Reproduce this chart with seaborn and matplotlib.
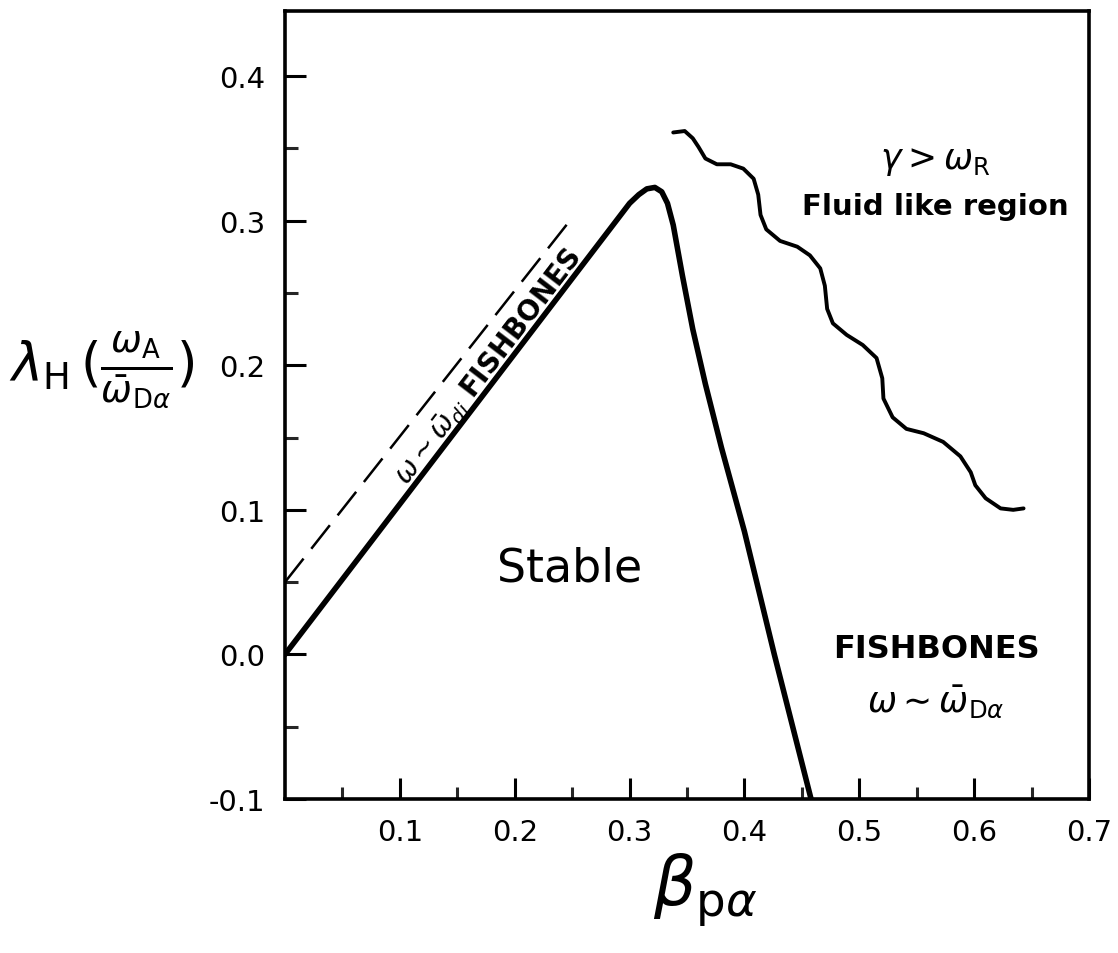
import numpy as np
import pandas as pd
import matplotlib
matplotlib.use("Agg")
import matplotlib.pyplot as plt
import seaborn as sns

# Marginal-stability boundary (solid)
boundary_beta = [0.0, 0.10, 0.20, 0.300, 0.308, 0.315, 0.322, 0.328, 0.333, 0.338,
                 0.346, 0.355, 0.366, 0.380, 0.400, 0.426, 0.458]
boundary_lam = [0.0, 0.104, 0.208, 0.312, 0.318, 0.322, 0.323, 0.320, 0.312, 0.297,
                0.262, 0.225, 0.187, 0.143, 0.085, 0.000, -0.100]

# Diamagnetic-branch guide (dashed)
dia_beta = [0.0, 0.248]
dia_lam = [0.05, 0.30]

# Fluid-like region boundary (wavy)
fluid_beta = [0.338, 0.348, 0.355, 0.360, 0.366, 0.376, 0.388, 0.399, 0.408, 0.412,
              0.414, 0.419, 0.431, 0.446, 0.457, 0.466, 0.470, 0.472, 0.477, 0.489,
              0.503, 0.515, 0.520, 0.521, 0.529, 0.541, 0.556, 0.573, 0.588, 0.597,
              0.601, 0.610, 0.623, 0.634, 0.643]
fluid_lam = [0.361, 0.362, 0.357, 0.351, 0.343, 0.339, 0.339, 0.336, 0.329, 0.318,
             0.304, 0.294, 0.286, 0.282, 0.276, 0.267, 0.255, 0.239, 0.229, 0.221,
             0.214, 0.205, 0.191, 0.177, 0.164, 0.156, 0.153, 0.147, 0.137, 0.126,
             0.117, 0.108, 0.101, 0.100, 0.101]

x_major = [0.1, 0.2, 0.3, 0.4, 0.5, 0.6, 0.7]
x_minor = [0.05, 0.15, 0.25, 0.35, 0.45, 0.55, 0.65]
y_major = [-0.1, 0.0, 0.1, 0.2, 0.3, 0.4]
y_minor = [-0.05, 0.05, 0.15, 0.25, 0.35]

sns.set_theme(style="white")
plt.rcParams["font.family"] = ["DejaVu Sans"]
plt.rcParams["mathtext.fontset"] = "dejavusans"
plt.rcParams["text.color"] = "black"
plt.rcParams["axes.labelcolor"] = "black"

fig = plt.figure(figsize=(11.18, 9.54), dpi=100)
ax = fig.add_axes([0.2549, 0.1614, 0.7192, 0.8260])

boundary = pd.DataFrame({"beta": boundary_beta, "lam": boundary_lam})
dia = pd.DataFrame({"beta": dia_beta, "lam": dia_lam})
fluid = pd.DataFrame({"beta": fluid_beta, "lam": fluid_lam})

sns.lineplot(data=boundary, x="beta", y="lam", ax=ax, sort=False, estimator=None,
             color="black", lw=4.0, solid_capstyle="round", solid_joinstyle="round")
sns.lineplot(data=dia, x="beta", y="lam", ax=ax, sort=False, estimator=None,
             color="black", lw=1.8, linestyle=(0, (12, 5)))
sns.lineplot(data=fluid, x="beta", y="lam", ax=ax, sort=False, estimator=None,
             color="black", lw=2.8, solid_capstyle="round", solid_joinstyle="round")

ax.set_xlim(0.0, 0.7)
ax.set_ylim(-0.1, 0.445)

ax.set_xticks(x_major)
ax.set_xticks(x_minor, minor=True)
ax.set_xticklabels([f"{v:.1f}" for v in x_major])
ax.set_yticks(y_major)
ax.set_yticks(y_minor, minor=True)
ax.set_yticklabels([f"{v:.1f}" for v in y_major])

ax.tick_params(which="major", direction="in", length=15, width=2.2, labelsize=21,
               pad=14, colors="black")
ax.tick_params(which="minor", direction="in", length=9, width=2.2)
ax.tick_params(axis="x", which="both", bottom=True, top=False)
ax.tick_params(axis="y", which="both", left=True, right=False)

for side in ["left", "right", "top", "bottom"]:
    ax.spines[side].set_visible(True)
    ax.spines[side].set_color("black")
    ax.spines[side].set_linewidth(2.6)

ax.set_xlabel(r"$\beta_{\mathrm{p}\alpha}$", fontsize=48, va="center")
ax.xaxis.set_label_coords(0.522, -0.114)
ax.set_ylabel(r"$\lambda_{\mathrm{H}}\,(\frac{\omega_{\mathrm{A}}}{\bar{\omega}_{\mathrm{D}\alpha}})$",
              fontsize=38, rotation=0, ha="center", va="center")
ax.yaxis.set_label_coords(-0.228, 0.546)

ax.text(0.248, 0.060, "Stable", fontsize=33, ha="center", va="center")
ax.text(0.567, 0.004, "FISHBONES", fontsize=23, ha="center", va="center", fontweight="bold")
ax.text(0.567, -0.032, r"$\omega\sim\bar{\omega}_{\mathrm{D}\alpha}$", fontsize=25,
        ha="center", va="center")
ax.text(0.566, 0.342, r"$\gamma>\omega_{\mathrm{R}}$", fontsize=25, ha="center", va="center")
ax.text(0.566, 0.310, "Fluid like region", fontsize=21, ha="center", va="center",
        fontweight="bold")
ax.text(0.177, 0.199, r"$\omega\sim\bar{\omega}_{di}$ FISHBONES", fontsize=20,
        ha="center", va="center", rotation=52.5, rotation_mode="anchor",
        fontweight="bold")

fig.savefig("out.png", dpi=100, facecolor="white")
